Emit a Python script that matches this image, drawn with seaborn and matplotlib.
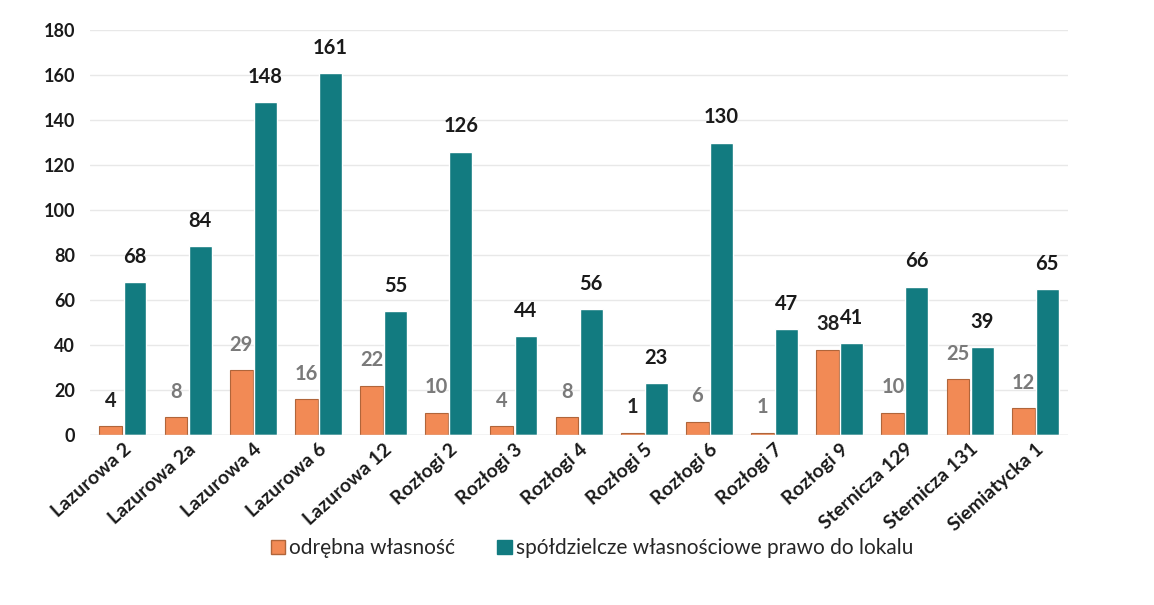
import matplotlib
matplotlib.use("Agg")
import matplotlib.pyplot as plt
import seaborn as sns
import pandas as pd
from matplotlib.patches import Patch

categories = ["Lazurowa 2", "Lazurowa 2a", "Lazurowa 4", "Lazurowa 6", "Lazurowa 12",
              "Rozłogi 2", "Rozłogi 3", "Rozłogi 4", "Rozłogi 5", "Rozłogi 6",
              "Rozłogi 7", "Rozłogi 9", "Sternicza 129", "Sternicza 131", "Siemiatycka 1"]
odrebna = [4, 8, 29, 16, 22, 10, 4, 8, 1, 6, 1, 38, 10, 25, 12]
spoldzielcze = [68, 84, 148, 161, 55, 126, 44, 56, 23, 130, 47, 41, 66, 39, 65]
series_names = ["odrębna własność", "spółdzielcze własnościowe prawo do lokalu"]
yticks = [0, 20, 40, 60, 80, 100, 120, 140, 160, 180]

df = pd.DataFrame({
    "adres": categories * 2,
    "wartosc": odrebna + spoldzielcze,
    "seria": [series_names[0]] * len(categories) + [series_names[1]] * len(categories),
})

sns.set_theme(style="white")
plt.rcParams["font.family"] = ["Lato", "DejaVu Sans"]

fig = plt.figure(figsize=(11.54, 6.05), dpi=100)
ax = fig.add_axes([0.0783, 0.281, 0.847, 0.669])

orange = "#F28A55"
teal = "#127B80"
sns.barplot(data=df, x="adres", y="wartosc", hue="seria", palette=[orange, teal],
            width=0.74, gap=0.05, ax=ax, legend=False, saturation=1)

for patch in ax.containers[0]:
    patch.set_edgecolor("#B0653A")
    patch.set_linewidth(0.8)

ax.set_ylim(0, 180)
ax.set_xlim(-0.5, len(categories) - 0.5)
ax.set_yticks(yticks)
ax.set_yticklabels([str(t) for t in yticks], fontsize=13, fontweight="bold", color="#1a1a1a")
ax.set_xlabel("")
ax.set_ylabel("")
ax.grid(axis="y", color="#e8e8e8", linewidth=1)
ax.set_axisbelow(True)
for s in ax.spines.values():
    s.set_visible(False)
ax.axhline(0, color="#d9d9d9", linewidth=1)
ax.tick_params(axis="y", length=0, pad=11)
ax.tick_params(axis="x", length=0, pad=4)
ax.set_xticks(range(len(categories)))
ax.set_xticklabels(categories, rotation=42, ha="right", rotation_mode="anchor",
                   fontsize=14, fontweight="bold", color="#1a1a1a")

dark_orange_labels = {0, 8, 11}
for i, (patch, v) in enumerate(zip(ax.containers[0], odrebna)):
    col = "#222222" if i in dark_orange_labels else "#7a7a7a"
    ax.annotate(str(v), (patch.get_x() + patch.get_width() / 2, v),
                xytext=(0, 11), textcoords="offset points", ha="center", va="bottom",
                fontsize=14.5, fontweight="bold", color=col)
for patch, v in zip(ax.containers[1], spoldzielcze):
    ax.annotate(str(v), (patch.get_x() + patch.get_width() / 2, v),
                xytext=(0, 11), textcoords="offset points", ha="center", va="bottom",
                fontsize=14.5, fontweight="bold", color="#1a1a1a")

handles = [Patch(facecolor=orange, edgecolor="#B0653A"), Patch(facecolor=teal, edgecolor=teal)]
fig.legend(handles, series_names, loc="center", bbox_to_anchor=(0.513, 0.094), ncol=2,
           frameon=False, fontsize=15, handlelength=0.7, handleheight=0.7,
           handletextpad=0.2, columnspacing=2.0)

fig.savefig("out.png", dpi=100)
